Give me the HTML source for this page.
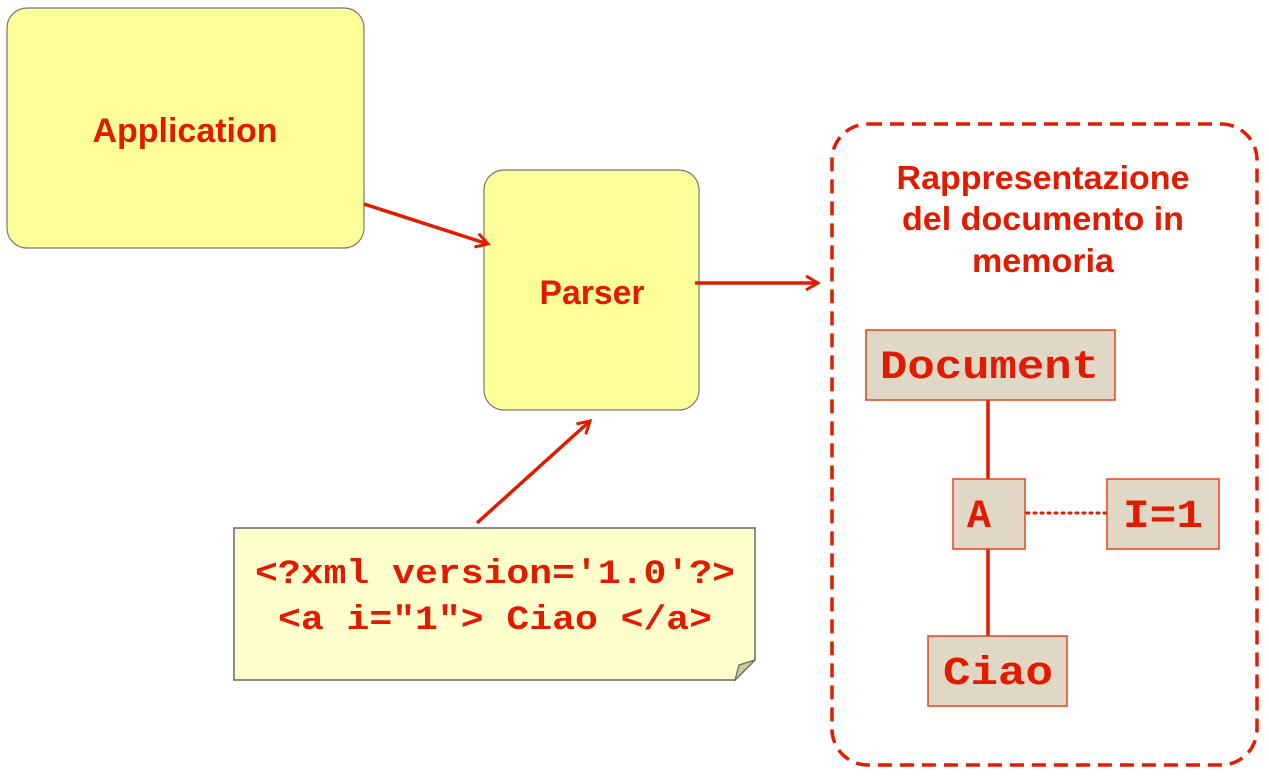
<!DOCTYPE html>
<html><head><style>body{margin:0;background:#fff}</style></head><body>
<svg width="1269" height="778" viewBox="0 0 1269 778" xmlns="http://www.w3.org/2000/svg">
<defs><marker id="ar" markerWidth="20" markerHeight="20" refX="14" refY="8" orient="auto" markerUnits="userSpaceOnUse"><path d="M2,1 L14,8 L2,15" fill="none" stroke="#e21a00" stroke-width="3"/></marker></defs>
<rect x="7" y="8" width="357" height="240" rx="20" fill="#ffff99" stroke="#777" stroke-width="1.2"/>
<text x="185" y="142" font-family="Liberation Sans" font-weight="bold" font-size="34" fill="#e21a00" text-anchor="middle" textLength="185" lengthAdjust="spacingAndGlyphs">Application</text>
<rect x="484" y="170" width="215" height="240" rx="20" fill="#ffff99" stroke="#777" stroke-width="1.2"/>
<text x="592" y="304" font-family="Liberation Sans" font-weight="bold" font-size="34" fill="#e21a00" text-anchor="middle" textLength="105" lengthAdjust="spacingAndGlyphs">Parser</text>
<path d="M234,528 H755 V660 L735,680 H234 Z" fill="#ffffcc" stroke="#666" stroke-width="1.5"/>
<path d="M735,680 L739,665 L755,660 Z" fill="#cccc99" stroke="#666" stroke-width="1.2"/>
<g font-family="Liberation Mono" font-weight="bold" font-size="34" fill="#e21a00" text-anchor="middle">
<text x="495" y="583" textLength="480" lengthAdjust="spacingAndGlyphs">&lt;?xml version='1.0'?&gt;</text>
<text x="495" y="629" textLength="434" lengthAdjust="spacingAndGlyphs">&lt;a i="1"&gt; Ciao &lt;/a&gt;</text>
</g>
<line x1="364" y1="204" x2="488" y2="244" stroke="#e21a00" stroke-width="3.5" marker-end="url(#ar)"/>
<line x1="695" y1="283" x2="818" y2="283" stroke="#e21a00" stroke-width="3.5" marker-end="url(#ar)"/>
<line x1="477" y1="523" x2="590" y2="421" stroke="#e21a00" stroke-width="3.5" marker-end="url(#ar)"/>
<rect x="832" y="124" width="425" height="641" rx="36" fill="none" stroke="#e21a00" stroke-width="3.5" stroke-dasharray="14,8"/>
<g font-family="Liberation Sans" font-weight="bold" font-size="33" fill="#e21a00" text-anchor="middle">
<text x="1043" y="189" textLength="293" lengthAdjust="spacingAndGlyphs">Rappresentazione</text>
<text x="1043" y="230" textLength="282" lengthAdjust="spacingAndGlyphs">del documento in</text>
<text x="1043" y="272" textLength="142" lengthAdjust="spacingAndGlyphs">memoria</text>
</g>
<line x1="988" y1="400" x2="988" y2="479" stroke="#e21a00" stroke-width="3.5"/>
<line x1="988" y1="549" x2="988" y2="636" stroke="#e21a00" stroke-width="3.5"/>
<line x1="1027" y1="513" x2="1107" y2="513" stroke="#e21a00" stroke-width="3" stroke-dasharray="2,5" stroke-linecap="round"/>
<g fill="#e0d8c4" stroke="#e84020" stroke-width="1.5">
<rect x="866" y="330" width="249" height="70"/>
<rect x="953" y="479" width="72" height="70"/>
<rect x="1107" y="479" width="112" height="70"/>
<rect x="928" y="636" width="139" height="70"/>
</g>
<g font-family="Liberation Mono" font-weight="bold" font-size="40" fill="#e21a00">
<text x="880" y="378" textLength="219" lengthAdjust="spacingAndGlyphs">Document</text>
<text x="967" y="527">A</text>
<text x="1123" y="527" textLength="80" lengthAdjust="spacingAndGlyphs">I=1</text>
<text x="943" y="684" textLength="110" lengthAdjust="spacingAndGlyphs">Ciao</text>
</g>
</svg>
</body></html>
